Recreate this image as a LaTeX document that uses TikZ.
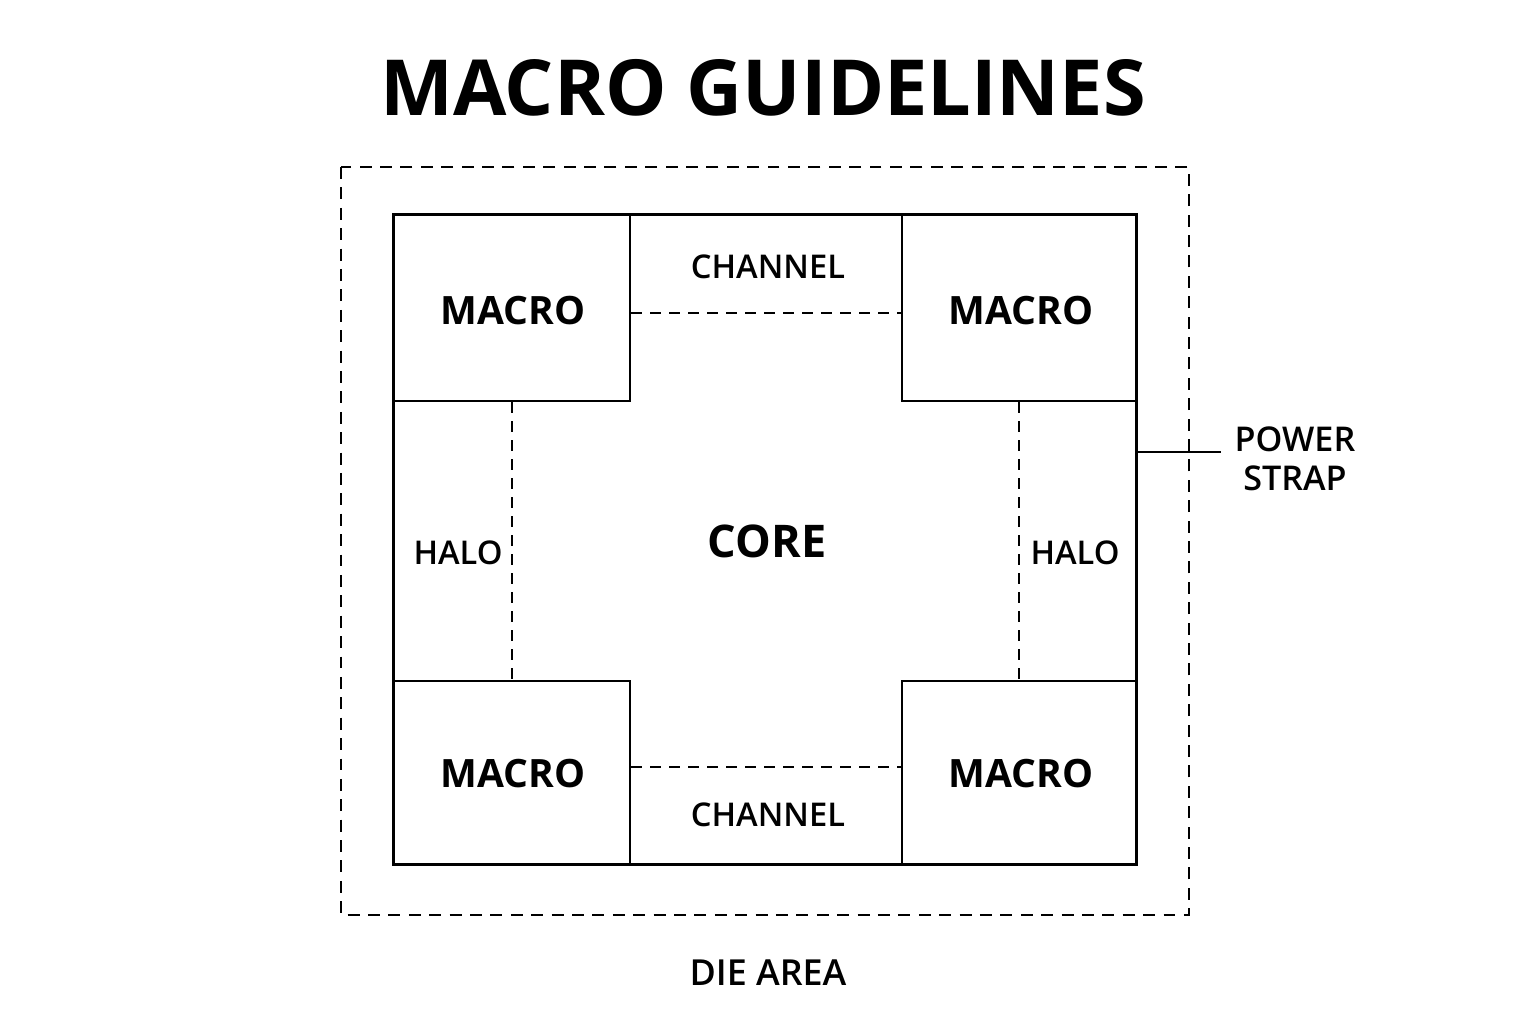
\documentclass[tikz,border=0pt]{standalone}
\usepackage{fontspec}
\setmainfont{Open Sans}
\newfontfamily\medfont{Open Sans Semibold}
\begin{document}
\begin{tikzpicture}[x=0.01cm,y=-0.01cm,
  line width=0.75pt,
  box/.style={draw,line width=0.75pt,fill=white,inner sep=0pt,rectangle},
  macrolbl/.style={font=\fontsize{11.1}{13}\selectfont\bfseries},
  smalllbl/.style={font=\fontsize{9.3}{11}\selectfont\medfont},
  diedash/.style={dash pattern=on 3.4pt off 2.4pt},
  chdash/.style={dash pattern=on 3pt off 2.4pt}]
\useasboundingbox (0,0) rectangle (1536,1024);
\node[font=\fontsize{22}{26}\selectfont\bfseries] (title) at (763,88) {MACRO GUIDELINES};
% die area
\draw[diedash] (341,167) rectangle (1189,915);
% chip outline
\node[box,minimum width=7.42cm,minimum height=6.49cm] (chip) at (765,539.5) {};
% macros
\node[box,minimum width=2.36cm,minimum height=1.86cm] (tl) at (512,308) {};
\node[box,minimum width=2.34cm,minimum height=1.86cm] (tr) at (1019,308) {};
\node[box,minimum width=2.36cm,minimum height=1.83cm] (bl) at (512,772.5) {};
\node[box,minimum width=2.34cm,minimum height=1.83cm] (br) at (1019,772.5) {};
\node[macrolbl] (tltxt) at (513,311) {MACRO};
\node[macrolbl] (trtxt) at (1021,311) {MACRO};
\node[macrolbl] (bltxt) at (513,774) {MACRO};
\node[macrolbl] (brtxt) at (1021,774) {MACRO};
% channels
\coordinate (ch1) at (765,313);
\coordinate (ch2) at (765,767);
\draw[chdash] (tl.east |- ch1) -- (tr.west |- ch1);
\draw[chdash] (bl.east |- ch2) -- (br.west |- ch2);
\node[smalllbl] (chan1) at (768,267) {CHANNEL};
\node[smalllbl] (chan2) at (768,815) {CHANNEL};
% halos
\draw[chdash] (tl.south) -- (bl.north);
\draw[chdash] (tr.south) -- (br.north);
\node[smalllbl] (halo1) at (458,553) {HALO};
\node[smalllbl] (halo2) at (1075,553) {HALO};
% core
\node[font=\fontsize{12.8}{15}\selectfont\bfseries] (core) at (767,541) {CORE};
% power strap
\node[font=\fontsize{9.7}{11.2}\selectfont\medfont,align=center] (ps) at (1295,459) {POWER\\STRAP};
\coordinate (ps1) at (1221,452);
\draw (chip.east |- ps1) -- (ps1);
% die label
\node[font=\fontsize{10.2}{12}\selectfont\medfont] (die) at (768,973) {DIE AREA};
\end{tikzpicture}
\end{document}
